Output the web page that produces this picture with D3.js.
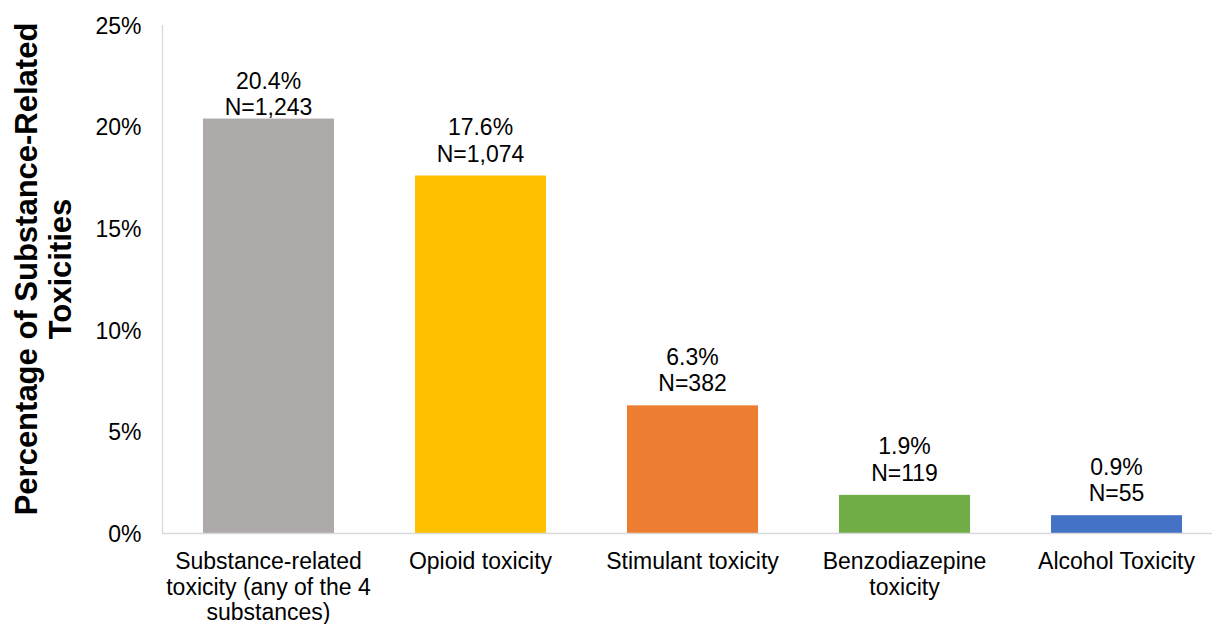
<!DOCTYPE html>
<html>
<head>
<meta charset="utf-8">
<script src="https://cdn.jsdelivr.net/npm/d3@7"></script>
<style>
  html, body { margin: 0; padding: 0; background: #fff; }
  svg { display: block; font-family: "Liberation Sans", Arial, sans-serif; }
</style>
</head>
<body>
<svg id="chart" width="1212" height="624"></svg>
<script>
// Toxicity categories and their shares / counts
const categories = [
  ["Substance-related", "toxicity (any of the 4", "substances)"],
  ["Opioid toxicity"],
  ["Stimulant toxicity"],
  ["Benzodiazepine", "toxicity"],
  ["Alcohol Toxicity"]
];
const percents = [20.4, 17.6, 6.3, 1.9, 0.9];
const counts = ["1,243", "1,074", "382", "119", "55"];
const colors = ["#AEAAAA", "#FFC000", "#ED7D31", "#70AD47", "#4472C4"];
const yTicks = [0, 5, 10, 15, 20, 25];

const svg = d3.select("#chart");
const plot = { left: 162.5, right: 1222.5, top: 25, bottom: 533.5 };
const fontSize = 23;

const keys = categories.map((c, i) => i);
const x = d3.scaleBand()
  .domain(keys)
  .range([plot.left, plot.right])
  .paddingInner(0.382)
  .paddingOuter(0.191);

const y = d3.scaleLinear()
  .domain([0, 25])
  .range([plot.bottom, plot.top]);

// Bars
svg.append("g")
  .selectAll("rect")
  .data(percents)
  .join("rect")
  .attr("x", (d, i) => x(i))
  .attr("y", d => y(d))
  .attr("width", x.bandwidth())
  .attr("height", d => y(0) - y(d))
  .attr("fill", (d, i) => colors[i]);

// Axis lines
svg.append("line")
  .attr("x1", plot.left).attr("x2", plot.left)
  .attr("y1", y(25)).attr("y2", y(0))
  .attr("stroke", "#D9D9D9").attr("stroke-width", 1.3);
svg.append("line")
  .attr("x1", plot.left).attr("x2", plot.right)
  .attr("y1", y(0)).attr("y2", y(0))
  .attr("stroke", "#D9D9D9").attr("stroke-width", 1.3);

// Y tick labels
const yAxis = d3.axisLeft(y)
  .tickValues(yTicks)
  .tickFormat(d => d + "%")
  .tickSize(0)
  .tickPadding(21);
const gy = svg.append("g")
  .attr("transform", `translate(${plot.left},0)`)
  .call(yAxis);
gy.select(".domain").remove();
gy.selectAll("text")
  .attr("font-size", fontSize)
  .attr("font-family", "Liberation Sans, Arial, sans-serif")
  .attr("fill", "#000")
  .attr("dy", "0.35em");

// Value labels above bars; the label block is kept from rising too close to the top
const labelBase = d => Math.max(y(d) - 14, plot.top + 90);
const labels = svg.append("g")
  .selectAll("g")
  .data(percents)
  .join("g")
  .attr("transform", (d, i) => `translate(${x(i) + x.bandwidth() / 2},${labelBase(d)})`);
labels.append("text")
  .attr("text-anchor", "middle")
  .attr("y", -26.5)
  .attr("font-size", fontSize)
  .attr("fill", "#000")
  .text(d => d.toFixed(1) + "%");
labels.append("text")
  .attr("text-anchor", "middle")
  .attr("y", 0)
  .attr("font-size", fontSize)
  .attr("fill", "#000")
  .text((d, i) => "N=" + counts[i]);

// Category labels
svg.append("g")
  .selectAll("text")
  .data(categories)
  .join("text")
  .attr("text-anchor", "middle")
  .attr("font-size", fontSize)
  .attr("fill", "#000")
  .attr("x", (d, i) => x(i) + x.bandwidth() / 2)
  .attr("y", 569)
  .selectAll("tspan")
  .data(d => d)
  .join("tspan")
  .attr("x", function() { return this.parentNode.getAttribute("x"); })
  .attr("dy", (d, j) => j === 0 ? 0 : 25.5)
  .text(d => d);

// Y axis title
const title = svg.append("text")
  .attr("transform", "translate(0,269) rotate(-90)")
  .attr("text-anchor", "middle")
  .attr("font-size", 31)
  .attr("font-weight", "bold")
  .attr("fill", "#000");
title.append("tspan").attr("x", 0).attr("y", 37).text("Percentage of Substance-Related");
title.append("tspan").attr("x", 0).attr("y", 71).text("Toxicities");
</script>
</body>
</html>
